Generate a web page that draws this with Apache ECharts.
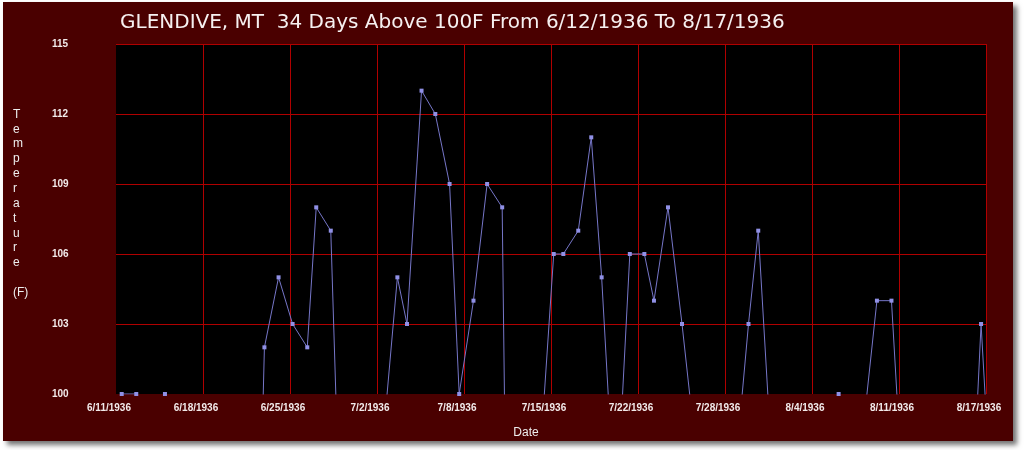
<!DOCTYPE html>
<html>
<head>
<meta charset="utf-8">
<title>GLENDIVE, MT</title>
<script src="https://cdn.jsdelivr.net/npm/echarts@6/dist/echarts.min.js"></script>
<style>
  html, body {
    margin: 0;
    padding: 0;
    background: #ffffff;
  }
  .panel {
    position: absolute;
    left: 3px;
    top: 2px;
    width: 1010px;
    height: 439px;
    background: #4a0000;
    box-shadow: 4px 4px 5px rgba(0, 0, 0, 0.55);
  }
  #chart {
    position: absolute;
    left: 0;
    top: 0;
    width: 1024px;
    height: 450px;
  }
</style>
</head>
<body>
<div class="panel"></div>
<div id="chart"></div>
<script>
// x axis runs in days from the left edge (6/11/1936), labels every 6.7 days
const dateLabels = ['6/11/1936', '6/18/1936', '6/25/1936', '7/2/1936', '7/8/1936', '7/15/1936',
  '7/22/1936', '7/28/1936', '8/4/1936', '8/11/1936', '8/17/1936']

// days at or above 100F (the plotted markers)
const hotDays = [0.44, 1.56, 3.77, 11.43, 12.52, 13.6, 14.73, 15.42, 16.54, 21.67, 22.41, 23.53,
  24.59, 25.69, 26.43, 27.53, 28.58, 29.74, 33.71, 34.45, 35.6, 36.6, 37.4, 39.57, 40.69, 41.43,
  42.51, 43.59, 48.71, 49.46, 55.65, 58.6, 59.72, 66.62]
const hotTemps = [100, 100, 100, 102, 105, 103, 102, 108, 107, 105, 103, 113,
  112, 109, 100, 104, 109, 108, 106, 106, 107, 111, 105, 106, 106, 104,
  108, 103, 103, 107, 100, 104, 104, 103]

// cooler days in between (below the axis, only the line going to them shows)
const coolDays = [2.66, 4.8, 7.5, 10.43, 17.54, 19.1, 20.67, 30.48, 32.71, 38.48, 44.59, 46.1,
  47.7, 50.46, 52.5, 54.65, 56.65, 57.6, 60.72, 62.5, 64.3, 65.62, 67.62]
const coolTemps = [95, 90, 85, 80, 89, 92, 98.7, 74, 97.7, 94.3, 97.9, 93,
  96.75, 97.5, 93, 94, 95, 98.8, 94.4, 90, 88, 91.2, 93.2]

const yNameLetters = ['T', 'e', 'm', 'p', 'e', 'r', 'a', 't', 'u', 'r', 'e', '', '(F)']

// axis works in tenths of a day so the 6.7 day label step is a whole number
const hotSet = new Set(hotDays.map(d => d * 10))
const allPoints = hotDays.map((d, i) => [d * 10, hotTemps[i]])
  .concat(coolDays.map((d, i) => [d * 10, coolTemps[i]]))
  .sort((a, b) => a[0] - b[0])

const chart = echarts.init(document.getElementById('chart'))

const option = {
  animation: false,
  title: {
    text: 'GLENDIVE, MT  34 Days Above 100F From 6/12/1936 To 8/17/1936',
    left: 115,
    top: 8,
    textStyle: {
      color: '#f6f0f0',
      fontFamily: 'DejaVu Sans',
      fontSize: 20,
      fontWeight: 'normal'
    }
  },
  // stacked letters for the y axis title
  graphic: [
    {
      type: 'text',
      left: 13,
      top: 107,
      style: {
        text: yNameLetters.join('\n'),
        fill: '#eeeeee',
        font: '12px "Liberation Sans"',
        lineHeight: 14.85,
        align: 'center',
        width: 14
      }
    }
  ],
  grid: {
    left: 116,
    top: 44,
    right: 38,
    bottom: 56,
    show: true,
    backgroundColor: '#000000',
    borderWidth: 0
  },
  xAxis: {
    type: 'value',
    min: 0,
    max: 670,
    interval: 67,
    name: 'Date',
    nameLocation: 'middle',
    nameGap: 33,
    nameTextStyle: {
      color: '#eeeeee',
      fontFamily: 'Liberation Sans',
      fontSize: 12,
      padding: [0, 50, 0, 0]
    },
    axisLine: { show: false },
    axisTick: { show: false },
    axisLabel: {
      color: '#f2eaea',
      fontFamily: 'Liberation Sans',
      fontWeight: 'bold',
      fontSize: 10,
      margin: 9,
      padding: [0, 14, 0, 0],
      showMinLabel: true,
      showMaxLabel: true,
      formatter: v => dateLabels[Math.round(v / 67)]
    },
    splitLine: {
      show: true,
      interval: 0,
      showMinLine: false,
      lineStyle: { color: ['#b00000'], width: 1, opacity: 1 }
    }
  },
  yAxis: {
    type: 'value',
    min: 100,
    max: 115,
    interval: 3,
    axisLine: { show: false },
    axisTick: { show: false },
    axisLabel: {
      color: '#f2eaea',
      fontFamily: 'Liberation Sans',
      fontWeight: 'bold',
      fontSize: 10,
      align: 'left',
      margin: 64
    },
    splitLine: {
      show: true,
      showMinLine: false,
      lineStyle: { color: '#b00000', width: 1 }
    }
  },
  series: [
    {
      type: 'line',
      data: allPoints,
      clip: true,
      symbol: 'rect',
      showAllSymbol: true,
      lineStyle: { color: '#7676c8', width: 1 },
      itemStyle: { color: '#9090e6' },
      // markers only on the hot days
      symbolSize: (val) => hotSet.has(val[0]) ? 4 : 0
    }
  ]
}

chart.setOption(option)
</script>
</body>
</html>
